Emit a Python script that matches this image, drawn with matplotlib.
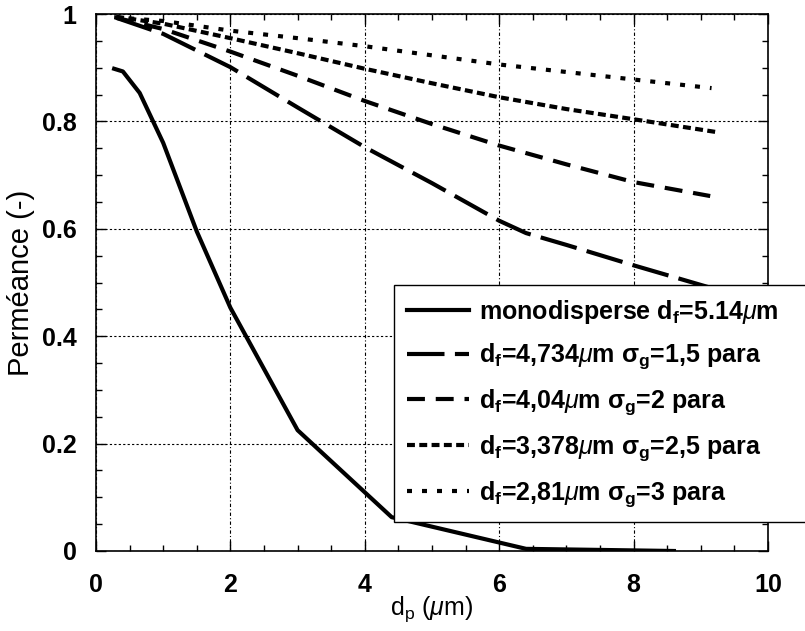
import numpy as np
import matplotlib
matplotlib.use('Agg')
import matplotlib.pyplot as plt
from matplotlib.ticker import MultipleLocator

# permeance curves
x_mono = [0.27, 0.4, 0.65, 1.0, 1.5, 2.0, 3.0, 4.4, 6.4, 8.6]
y_mono = [0.898, 0.893, 0.853, 0.76, 0.595, 0.453, 0.225, 0.063, 0.004, 0.0]

x_s15 = [0.3, 1, 2, 3, 4, 5, 6, 6.4, 7, 8, 9.15]
y_s15 = [0.993, 0.963, 0.901, 0.826, 0.752, 0.685, 0.615, 0.592, 0.57, 0.532, 0.49]

x_s2 = [0.3, 1, 2, 3, 4, 5, 6, 7, 8, 9.14]
y_s2 = [0.993, 0.972, 0.93, 0.885, 0.838, 0.795, 0.755, 0.72, 0.687, 0.661]

x_s25 = [0.3, 1, 2, 3, 4, 5, 6, 7, 8, 9.24]
y_s25 = [0.995, 0.982, 0.955, 0.927, 0.898, 0.871, 0.845, 0.823, 0.804, 0.78]

x_s3 = [0.27, 1, 2, 3, 4, 5, 6, 7, 8, 9.16]
y_s3 = [0.994, 0.987, 0.969, 0.955, 0.94, 0.923, 0.906, 0.892, 0.878, 0.862]

labels = ['monodisperse d$_\\mathregular{f}$=5.14$\\mu$m',
          'd$_\\mathregular{f}$=4,734$\\mu$m $\\mathregular{\\sigma_g}$=1,5 para',
          'd$_\\mathregular{f}$=4,04$\\mu$m $\\mathregular{\\sigma_g}$=2 para',
          'd$_\\mathregular{f}$=3,378$\\mu$m $\\mathregular{\\sigma_g}$=2,5 para',
          'd$_\\mathregular{f}$=2,81$\\mu$m $\\mathregular{\\sigma_g}$=3 para']

plt.rcParams['font.family'] = 'Liberation Sans'
plt.rcParams['mathtext.fontset'] = 'custom'
plt.rcParams['mathtext.rm'] = 'Liberation Sans'
plt.rcParams['mathtext.it'] = 'Liberation Sans:italic'
plt.rcParams['mathtext.bf'] = 'Liberation Sans:bold'

fig = plt.figure(figsize=(8.05, 6.31), dpi=100)
ax = fig.add_axes([96 / 805, 1 - 551 / 631, 672 / 805, 537 / 631])

lw = 3.0
ax.plot(x_mono, y_mono, color='black', lw=lw, label=labels[0])
ax.plot(x_s15, y_s15, color='black', lw=lw, dashes=(9, 2.5), label=labels[1])
ax.plot(x_s2, y_s2, color='black', lw=lw, dashes=(4.3, 2.6), label=labels[2])
ax.plot(x_s25, y_s25, color='black', lw=lw, dashes=(1.9, 1.05), label=labels[3])
ax.plot(x_s3, y_s3, color='black', lw=lw, dashes=(1.2, 2.4), label=labels[4])

ax.set_xlim(0, 10)
ax.set_ylim(0, 1)
ax.xaxis.set_major_locator(MultipleLocator(2))
ax.xaxis.set_minor_locator(MultipleLocator(0.5))
ax.yaxis.set_minor_locator(MultipleLocator(0.05))
ax.set_yticks([0, 0.2, 0.4, 0.6, 0.8, 1.0])
ax.set_yticklabels(['0', '0.2', '0.4', '0.6', '0.8', '1'])
ax.tick_params(which='both', direction='in', top=True, right=True, width=1)
ax.tick_params(which='major', length=7, labelsize=18)
ax.tick_params(axis='x', which='major', pad=16)
ax.tick_params(axis='y', which='major', pad=14)
ax.tick_params(which='minor', length=4)
for t in ax.get_xticklabels() + ax.get_yticklabels():
    t.set_fontweight('bold')

ax.xaxis.grid(True, color='black', lw=0.8, linestyle=(0, (3, 2, 1, 2)))
ax.yaxis.grid(True, color='black', lw=0.8, linestyle=(0, (2, 2)))
for s in ax.spines.values():
    s.set_linewidth(1.2)

ax.set_xlabel('d$_\\mathregular{p}$ ($\\mu$m)', fontsize=18, labelpad=-2)
ax.set_ylabel('Perméance (-)', fontsize=21, labelpad=5)

leg = ax.legend(loc='upper left',
                bbox_to_anchor=(394 / 805, 1 - 285 / 631, 440 / 805, 0),
                bbox_transform=fig.transFigure, mode='expand',
                prop={'weight': 'bold', 'size': 18}, frameon=True,
                fancybox=False, handlelength=2.5, labelspacing=0.65,
                borderaxespad=0, borderpad=0.5, handletextpad=0.4)
leg.get_frame().set_edgecolor('black')
leg.get_frame().set_linewidth(1.0)
leg.get_frame().set_alpha(1)

fig.savefig('out.png', dpi=100)
